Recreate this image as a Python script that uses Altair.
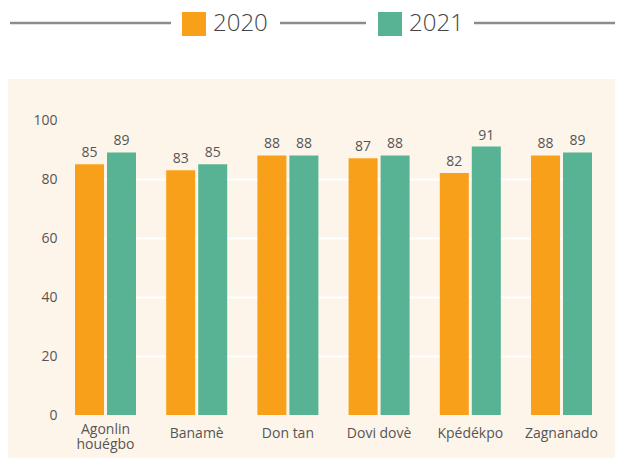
import altair as alt
import pandas as pd

communes = ["Agonlin houégbo", "Banamè", "Don tan", "Dovi dovè", "Kpédékpo", "Zagnanado"]
years = ["2020", "2021"]
values_2020 = [85, 83, 88, 87, 82, 88]
values_2021 = [89, 85, 88, 88, 91, 89]
y_ticks = [0, 20, 40, 60, 80, 100]

rows = []
for c, v in zip(communes, values_2020):
    rows.append({"commune": c, "year": "2020", "value": v})
for c, v in zip(communes, values_2021):
    rows.append({"commune": c, "year": "2021", "value": v})
df = pd.DataFrame(rows)

FONT = "Open Sans"
ORANGE = "#F9A01B"
GREEN = "#57B394"
CREAM = "#FDF5EA"
TXT = "#555555"

W, H = 517, 295

one = alt.Data(values=[{}])

# white header band above the cream panel
header = alt.Chart(one).mark_rect(color="#ffffff").encode(
    x=alt.value(-80), x2=alt.value(560), y=alt.value(-130), y2=alt.value(-41)
)

def hline(x1, x2):
    return alt.Chart(one).mark_rule(color="#8c8c8c", strokeWidth=2.5).encode(
        x=alt.value(x1), x2=alt.value(x2), y=alt.value(-97)
    )

lines = hline(-65, 96) + hline(205, 291) + hline(399, 548)

x_enc = alt.X(
    "commune:N",
    sort=communes,
    scale=alt.Scale(paddingInner=0.331, paddingOuter=0),
    axis=alt.Axis(
        title=None,
        labelAngle=0,
        ticks=False,
        domain=False,
        labelFont=FONT,
        labelFontSize=14,
        labelColor=TXT,
        labelBaseline="middle",
        labelPadding={"condition": {"test": "datum.value == 'Agonlin houégbo'", "value": 14}, "value": 18},
        labelLineHeight=15,
        labelExpr="datum.label == 'Agonlin houégbo' ? ['Agonlin', 'houégbo'] : datum.label",
    ),
)
xoff = alt.XOffset("year:N", sort=years, scale=alt.Scale(paddingInner=0.09375, paddingOuter=0))
y_enc = alt.Y(
    "value:Q",
    scale=alt.Scale(domain=[0, 100], nice=False),
    axis=alt.Axis(
        title=None,
        values=y_ticks,
        ticks=False,
        domain=False,
        labelFont=FONT,
        labelFontSize=14,
        labelColor=TXT,
        labelPadding=18,
        grid=True,
        gridColor={"condition": {"test": "datum.value === 0 || datum.value === 100", "value": "transparent"}, "value": "#ffffff"},
        gridWidth=2,
    ),
)

bars = alt.Chart(df).mark_bar().encode(
    x=x_enc,
    xOffset=xoff,
    y=y_enc,
    color=alt.Color(
        "year:N",
        scale=alt.Scale(domain=years, range=[ORANGE, GREEN]),
        legend=alt.Legend(
            title=None,
            orient="none",
            legendX=107,
            legendY=-108,
            direction="horizontal",
            symbolType="square",
            symbolSize=576,
            symbolStrokeWidth=0,
            labelFont=FONT,
            labelFontSize=24,
            labelFontWeight=300,
            labelColor="#444444",
            labelOffset=7,
            columnPadding=110,
            padding=0,
        ),
    ),
)

labels = alt.Chart(df).mark_text(
    baseline="bottom", dy=-4, font=FONT, fontSize=14, color=TXT
).encode(
    x=alt.X("commune:N", sort=communes),
    xOffset=alt.XOffset("year:N", sort=years),
    y="value:Q",
    text="value:Q",
)

chart = (
    alt.layer(header, lines, bars, labels)
    .properties(
        width=W,
        height=H,
        autosize=alt.AutoSizeParams(type="none"),
        padding={"left": 67, "top": 112, "right": 23, "bottom": 43},
        background=CREAM,
    )
    .configure_view(stroke=None)
)

chart.save("out.html", embed_options={"renderer": "svg", "actions": False})
